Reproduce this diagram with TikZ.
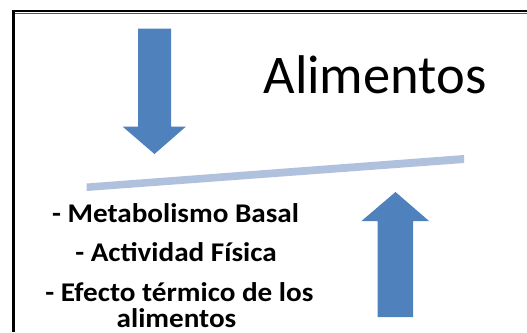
\documentclass[tikz,border=0pt]{standalone}
\usepackage{fontspec}
\setmainfont{Carlito}
\newfontfamily\listfont[FakeStretch=1.08]{Carlito}
\definecolor{arrowblue}{HTML}{4F81BD}
\definecolor{barblue}{HTML}{B0C1DE}
\tikzset{
  x=1pt,y=-1pt,
  arrowshape/.style={fill=arrowblue,draw=none},
  listtext/.style={anchor=base,font=\listfont\fontsize{27}{27}\bfseries\selectfont,text=black,inner sep=0pt},
}
\begin{document}
\begin{tikzpicture}
\useasboundingbox[fill=white] (0,0) rectangle (527,332);
% frame
\draw[black,line width=2.6pt] (13.5,332) -- (13.5,10.8) -- (527,10.8);
\draw[black!65,line width=1.2pt] (15,13.4) -- (527,13.4);
% arrows
\fill[arrowshape] (138,28.5) -- (171,28.5) -- (171,126.5) -- (186,126.5) -- (154.5,154) -- (122.5,126.5) -- (138,126.5) -- cycle;
\fill[arrowshape] (377.5,317) -- (413,317) -- (413,221) -- (429,221) -- (395.5,192) -- (361.5,221) -- (377.5,221) -- cycle;
% beam
\fill[barblue] (86.5,183.5) -- (464,155) -- (464,163) -- (86.5,191) -- cycle;
% text
\node[anchor=base,inner sep=0pt,font=\fontsize{54.5}{54.5}\selectfont] (title) at (375,93) {Alimentos};
\node[listtext] (t1) at (175.5,222) {- Metabolismo Basal};
\node[listtext] (t2) at (176,261) {- Actividad Física};
\node[listtext] (t3) at (179.5,301) {- Efecto térmico de los};
\node[listtext] (t4) at (176.5,327) {alimentos};
\end{tikzpicture}
\end{document}
